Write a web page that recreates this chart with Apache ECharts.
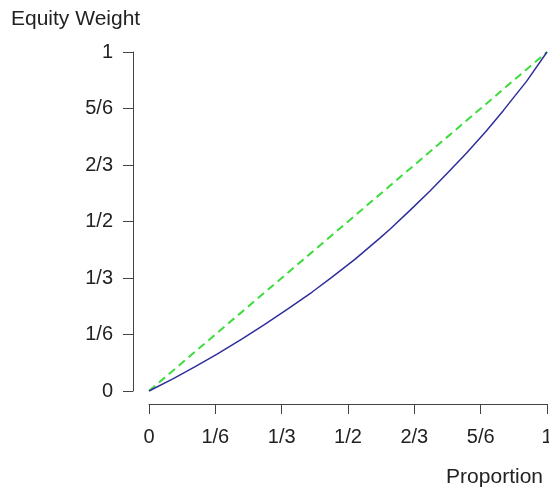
<!DOCTYPE html>
<html>
<head>
<meta charset="utf-8">
<script src="https://cdn.jsdelivr.net/npm/echarts@6/dist/echarts.min.js"></script>
<style>
html,body{margin:0;padding:0;background:#fff;}
#chart{width:549px;height:492px;}
</style>
</head>
<body>
<div id="chart"></div>
<script>
const tickLabels = ['0', '1/6', '1/3', '1/2', '2/3', '5/6', '1'];
const curveX = [0, 0.06, 0.116, 0.17, 0.233, 0.29, 0.35, 0.41, 0.459, 0.518, 0.58, 0.606, 0.655, 0.706, 0.75, 0.798, 0.847, 0.89, 0.949, 1];
const curveY = [0, 0.036, 0.072, 0.108, 0.153, 0.196, 0.243, 0.292, 0.335, 0.389, 0.451, 0.478, 0.532, 0.590, 0.643, 0.702, 0.766, 0.827, 0.914, 1];
const equalX = [0, 1];
const equalY = [0, 1];

const font = 'Liberation Sans, Arial, Helvetica, sans-serif';
const fmt = v => tickLabels[Math.round(v * 6)];

const chart = echarts.init(document.getElementById('chart'), null, {renderer: 'canvas'});
chart.setOption({
  animation: false,
  backgroundColor: '#ffffff',
  grid: {left: 149, right: 2, top: 52, bottom: 101, containLabel: false, outerBoundsMode: 'none'},
  xAxis: {
    type: 'value', min: 0, max: 1, interval: 1 / 6,
    offset: 13,
    splitLine: {show: false},
    axisLine: {show: true, onZero: false, lineStyle: {color: '#444', width: 1}},
    axisTick: {show: true, length: 10, inside: false, lineStyle: {color: '#444', width: 1}},
    axisLabel: {formatter: fmt, margin: 23, color: '#222', fontSize: 20, fontFamily: font, hideOverlap: false}
  },
  yAxis: {
    type: 'value', min: 0, max: 1, interval: 1 / 6,
    offset: 16,
    splitLine: {show: false},
    axisLine: {show: true, onZero: false, lineStyle: {color: '#444', width: 1}},
    axisTick: {show: true, length: 10, inside: false, lineStyle: {color: '#444', width: 1}},
    axisLabel: {formatter: fmt, margin: 20, color: '#222', fontSize: 20, fontFamily: font, hideOverlap: false}
  },
  graphic: [
    {type: 'text', left: 11, top: 9, style: {text: 'Equity Weight', fill: '#222', font: '21px ' + font}},
    {type: 'text', right: 6, top: 467, style: {text: 'Proportion', fill: '#222', font: '21px ' + font}}
  ],
  series: [
    {
      type: 'line', showSymbol: false, silent: true,
      data: equalX.map((x, i) => [x, equalY[i]]),
      lineStyle: {color: '#3ddc3d', width: 2, type: [8, 5]},
      z: 2
    },
    {
      type: 'line', showSymbol: false, silent: true, smooth: false,
      data: curveX.map((x, i) => [x, curveY[i]]),
      lineStyle: {color: '#2f2f9c', width: 1.5},
      z: 3
    }
  ]
});
</script>
</body>
</html>
